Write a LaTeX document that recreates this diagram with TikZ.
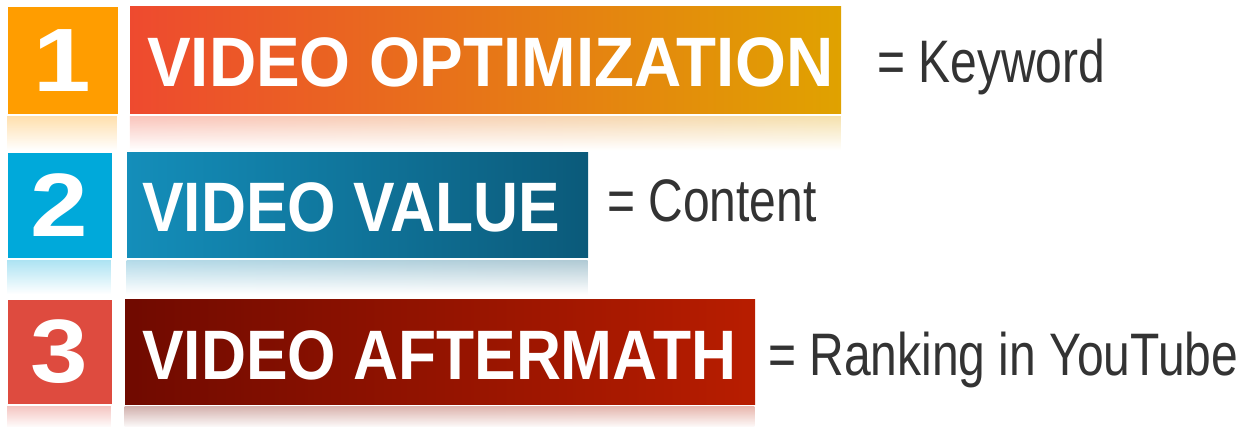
\documentclass[tikz,border=0pt]{standalone}
\usepackage{fontspec}
\setmainfont{Liberation Sans}
\newfontfamily\titlefam[FakeStretch=0.89]{Liberation Sans}
\newfontfamily\titlefamwide[FakeStretch=0.935]{Liberation Sans}
\newfontfamily\capfam[FakeStretch=0.8]{Liberation Sans}
\newfontfamily\digitfam[FakeStretch=1.15]{Liberation Sans}
\usetikzlibrary{fadings}
\definecolor{sqA}{HTML}{FF9D00}
\definecolor{barAl}{HTML}{EE4A2F}
\definecolor{barAr}{HTML}{E0A200}
\definecolor{sqB}{HTML}{00A9DA}
\definecolor{barBl}{HTML}{148EBA}
\definecolor{barBr}{HTML}{0B5A7A}
\definecolor{sqC}{HTML}{DE4B3F}
\definecolor{barCl}{HTML}{700A00}
\definecolor{barCr}{HTML}{B81D00}
\definecolor{capgray}{HTML}{333333}
\tikzset{
  numbox/.style={rectangle, inner sep=0pt, text=white,
    font=\digitfam\bfseries\fontsize{90}{100}\selectfont},
  barbox/.style={rectangle, inner sep=0pt},
  titletext/.style={anchor=base west, inner sep=0pt, text=white,
    font=\titlefam\bfseries\fontsize{70}{80}\selectfont},
  titlewide/.style={titletext, font=\titlefamwide\bfseries\fontsize{70}{80}\selectfont},
  captext/.style={anchor=base west, inner sep=0pt, text=capgray,
    font=\capfam\fontsize{60}{70}\selectfont},
  refl/.style={path fading=south, fill opacity=0.32}
}
\begin{document}
\begin{tikzpicture}[x=1pt,y=-1pt]
\useasboundingbox (0,0) rectangle (1250,427);
% ---------- row 1 ----------
\node[numbox, fill=sqA, minimum width=110pt, minimum height=107pt] (n1) at (62.5,60.5) {1};
\node[barbox, left color=barAl, right color=barAr, minimum width=711pt, minimum height=107pt] (b1) at (485.5,60.5) {};
\fill[sqA, refl] ([yshift=-2pt]n1.south west) rectangle ++(110,34);
\shade[left color=barAl, right color=barAr, refl] ([yshift=-2pt]b1.south west) rectangle ++(711,34);
\node[titlewide] (t1) at (147,87) {VIDEO OPTIMIZATION};
\node[captext] (c1) at (877,83) {= Keyword};
% ---------- row 2 ----------
\node[numbox, fill=sqB, minimum width=104pt, minimum height=105pt] (n2) at (59.5,205.5) {2};
\node[barbox, left color=barBl, right color=barBr, minimum width=461pt, minimum height=105pt] (b2) at (357.5,205.5) {};
\fill[sqB, refl] ([yshift=-2pt]n2.south west) rectangle ++(104,34);
\shade[left color=barBl, right color=barBr, refl] ([yshift=-2pt]b2.south west) rectangle ++(461,34);
\node[titletext] (t2) at (142,232) {VIDEO VALUE};
\node[captext] (c2) at (607,222) {= Content};
% ---------- row 3 ----------
\node[numbox, fill=sqC, minimum width=104pt, minimum height=104pt] (n3) at (59.5,352) {3};
\node[barbox, left color=barCl, right color=barCr, minimum width=630pt, minimum height=104pt] (b3) at (440,352) {};
\fill[sqC, refl] ([yshift=-2pt]n3.south west) rectangle ++(104,22);
\shade[left color=barCl, right color=barCr, refl] ([yshift=-2pt]b3.south west) rectangle ++(630,22);
\node[titletext] (t3) at (142,380) {VIDEO AFTERMATH};
\node[captext] (c3) at (768,375) {= Ranking in YouTube};
\end{tikzpicture}
\end{document}
